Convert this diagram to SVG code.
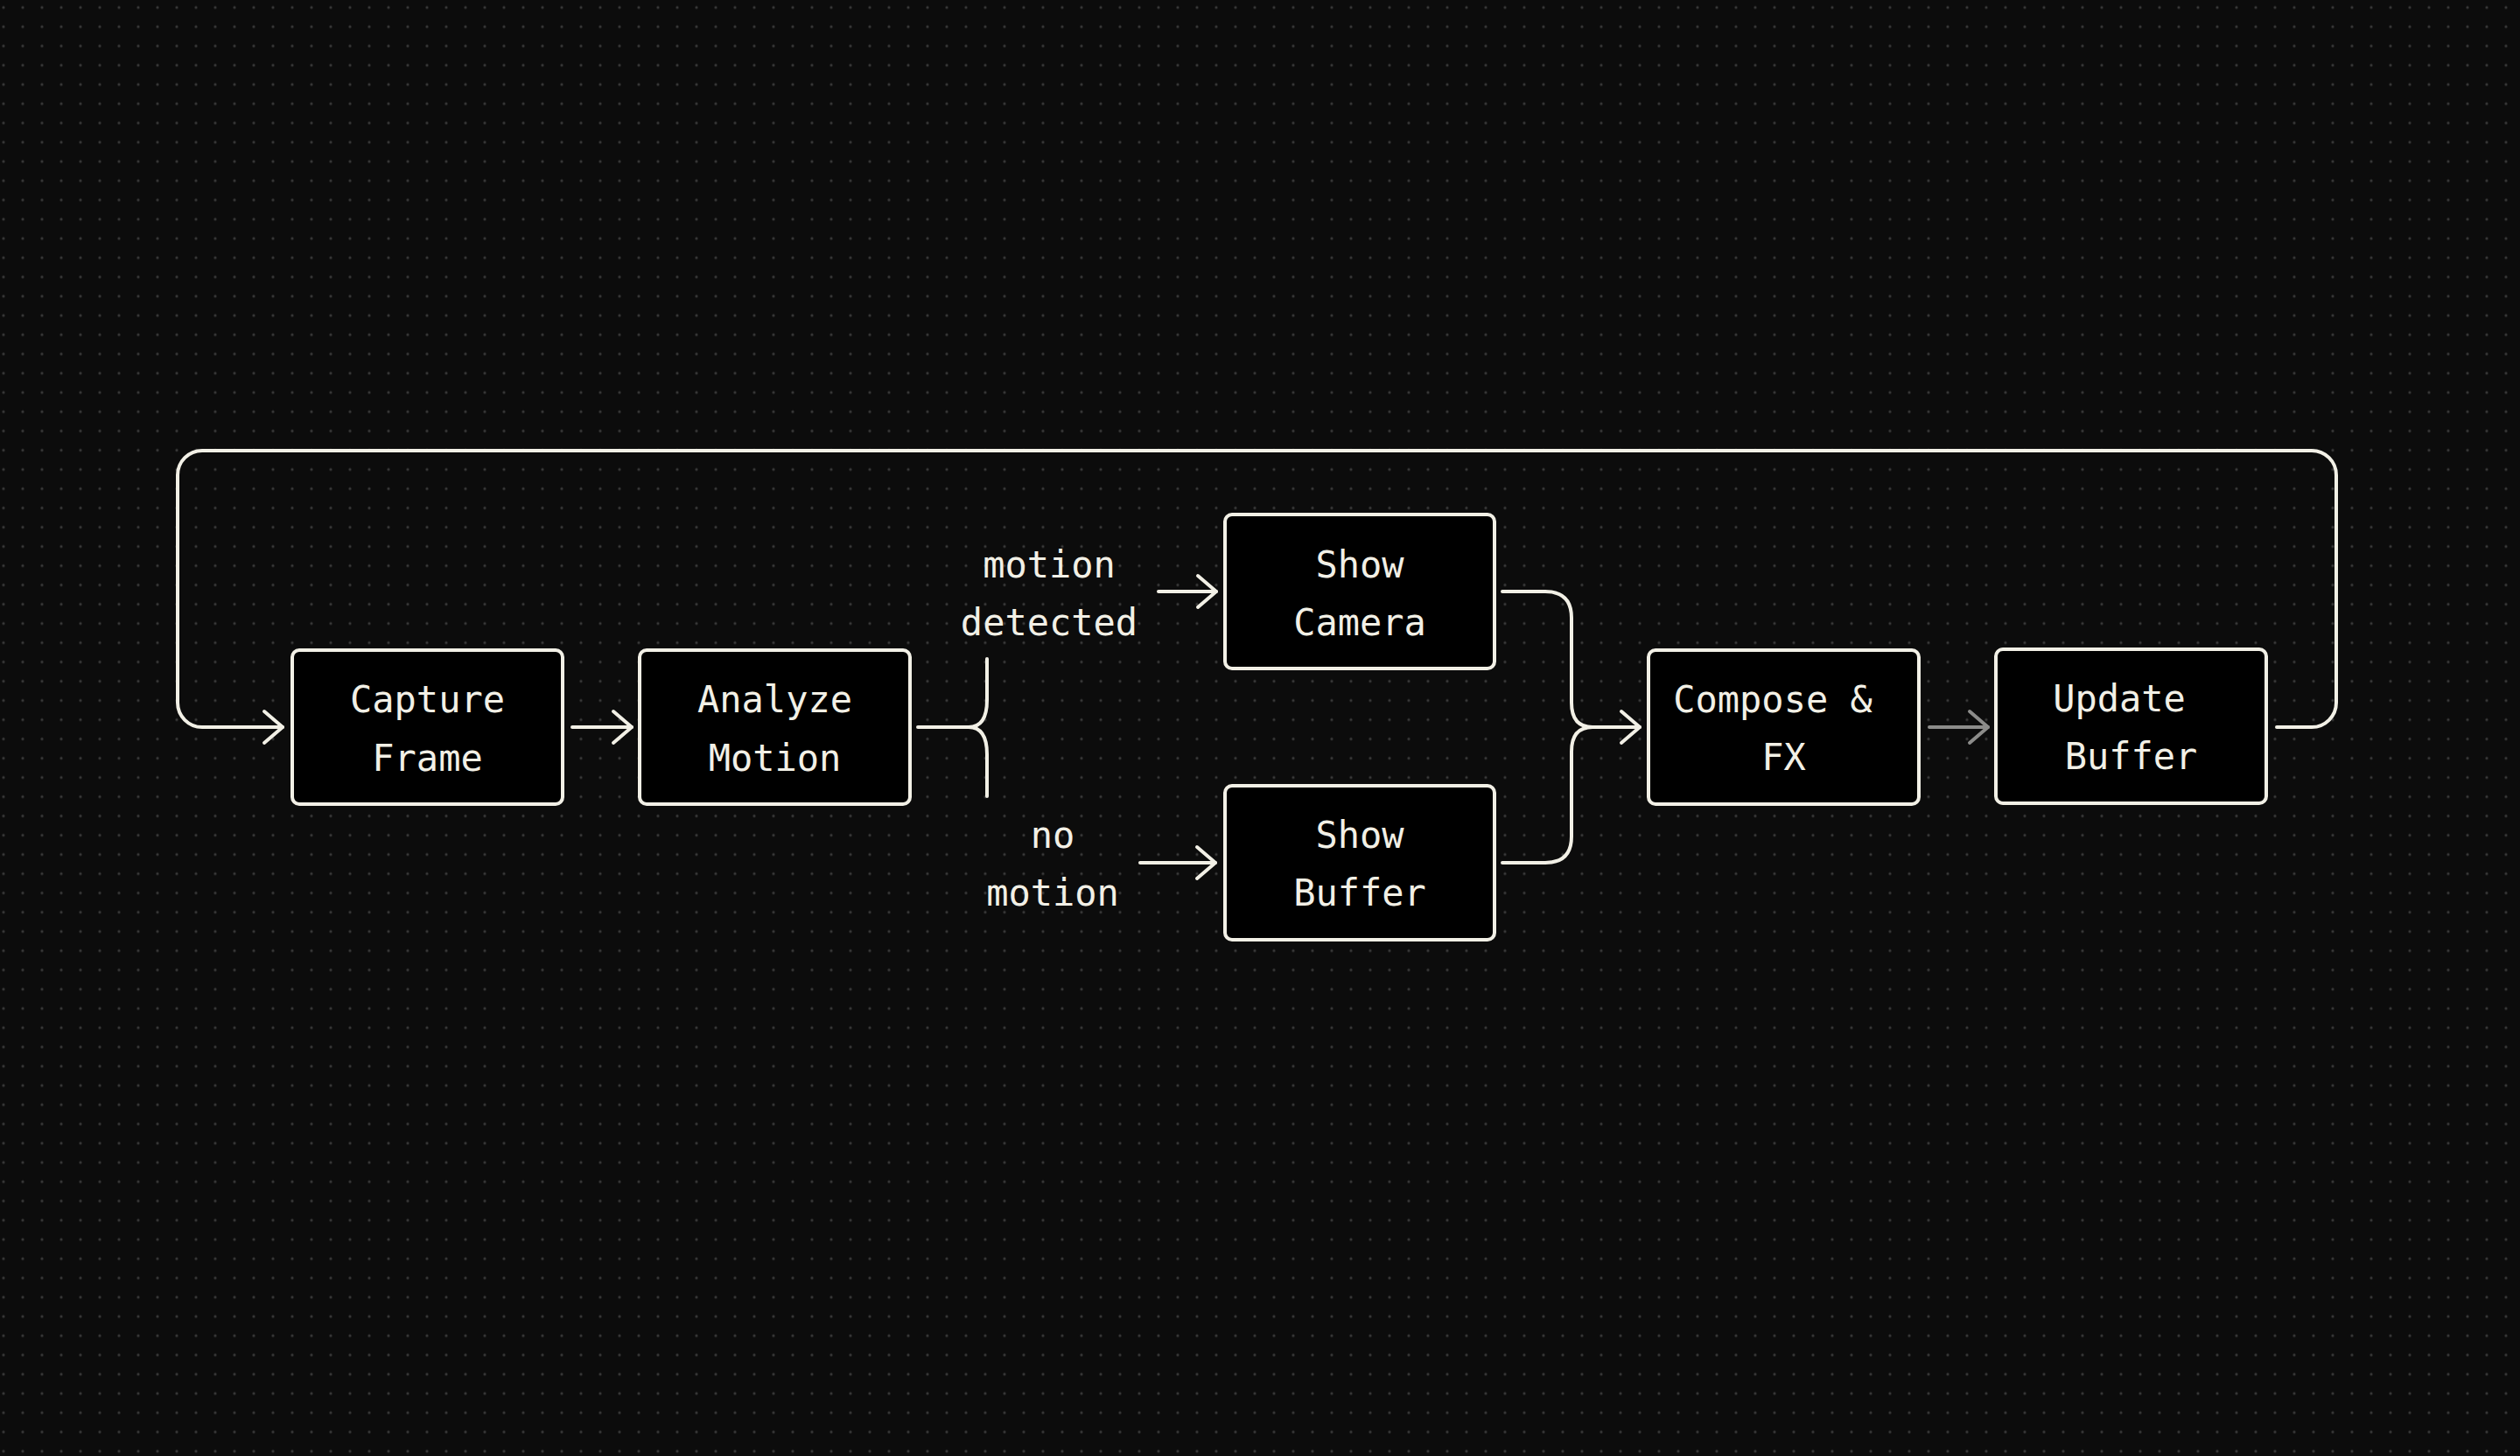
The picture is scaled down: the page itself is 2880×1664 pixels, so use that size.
<svg xmlns="http://www.w3.org/2000/svg" width="2880" height="1664" viewBox="0 0 2880 1664">
  <defs>
    <pattern id="dots" width="22" height="22" patternUnits="userSpaceOnUse" x="-7" y="-2.5">
      <circle cx="11" cy="11" r="1.6" fill="#3a3a3a"/>
    </pattern>
    <marker id="arrow" markerUnits="userSpaceOnUse" markerWidth="60" markerHeight="60" viewBox="-30 -30 60 60" refX="0" refY="0" orient="auto" overflow="visible">
      <path d="M-21,-18 L0,0 L-21,18" fill="none" stroke="#f2f0e6" stroke-width="4" stroke-linecap="round" stroke-linejoin="round"/>
    </marker>
    <marker id="arrowGray" markerUnits="userSpaceOnUse" markerWidth="60" markerHeight="60" viewBox="-30 -30 60 60" refX="0" refY="0" orient="auto" overflow="visible">
      <path d="M-21,-18 L0,0 L-21,18" fill="none" stroke="#8c8c8a" stroke-width="4" stroke-linecap="round" stroke-linejoin="round"/>
    </marker>
  </defs>
  <style>
    .box { fill: #000000; stroke: #f2f0e6; stroke-width: 4; }
    .lbl { font-family: "DejaVu Sans Mono", "Liberation Mono", monospace; font-size: 42px; fill: #f2f0e6; text-anchor: middle; }
    .wire { fill: none; stroke: #f2f0e6; stroke-width: 4; stroke-linecap: round; stroke-linejoin: round; }
    .gray { fill: none; stroke: #8c8c8a; stroke-width: 4; stroke-linecap: round; }
  </style>
  <rect width="2880" height="1664" fill="#0c0c0c"/>
  <rect width="2880" height="1664" fill="url(#dots)"/>

  <g id="connectors">
    <path class="wire" d="M2602,831 H2642 A28,28 0 0 0 2670,803 V543 A28,28 0 0 0 2642,515 H231 A28,28 0 0 0 203,543 V803 A28,28 0 0 0 231,831 H323" marker-end="url(#arrow)"/>
    <path class="wire" d="M654,831 H722" marker-end="url(#arrow)"/>
    <path class="wire" d="M1049,831 H1107"/>
    <path class="wire" d="M1128,753 V800 Q1128,831 1107,831 Q1128,831 1128,862 V910"/>
    <path class="wire" d="M1324,676 H1390" marker-end="url(#arrow)"/>
    <path class="wire" d="M1303,986 H1389" marker-end="url(#arrow)"/>
    <path class="wire" d="M1717,676 H1766 Q1796,676 1796,706 V803 Q1796,831 1820,831"/>
    <path class="wire" d="M1717,986 H1766 Q1796,986 1796,956 V859 Q1796,831 1820,831"/>
    <path class="wire" d="M1820,831 H1874" marker-end="url(#arrow)"/>
    <path class="gray" d="M2205,831 H2272" marker-end="url(#arrowGray)"/>
  </g>

  <g id="capture">
    <rect class="box" x="334" y="743" width="309" height="176" rx="8"/>
    <text class="lbl" x="488.5" y="814">Capture</text>
    <text class="lbl" x="488.5" y="881">Frame</text>
  </g>
  <g id="analyze">
    <rect class="box" x="731" y="743" width="309" height="176" rx="8"/>
    <text class="lbl" x="885.5" y="814">Analyze</text>
    <text class="lbl" x="885.5" y="881">Motion</text>
  </g>
  <g id="label-motion">
    <text class="lbl" x="1199" y="660">motion</text>
    <text class="lbl" x="1199" y="726">detected</text>
  </g>
  <g id="label-nomotion">
    <text class="lbl" x="1203" y="969">no</text>
    <text class="lbl" x="1203" y="1035">motion</text>
  </g>
  <g id="show-camera">
    <rect class="box" x="1400" y="588" width="308" height="176" rx="8"/>
    <text class="lbl" x="1554" y="660">Show</text>
    <text class="lbl" x="1554" y="726">Camera</text>
  </g>
  <g id="show-buffer">
    <rect class="box" x="1400" y="898" width="308" height="176" rx="8"/>
    <text class="lbl" x="1554" y="969">Show</text>
    <text class="lbl" x="1554" y="1035">Buffer</text>
  </g>
  <g id="compose">
    <rect class="box" x="1884" y="743" width="309" height="176" rx="8"/>
    <text class="lbl" x="2026" y="814">Compose &amp;</text>
    <text class="lbl" x="2038.5" y="880">FX</text>
  </g>
  <g id="update">
    <rect class="box" x="2281" y="742" width="309" height="176" rx="8"/>
    <text class="lbl" x="2422" y="813">Update</text>
    <text class="lbl" x="2435.5" y="879">Buffer</text>
  </g>
</svg>
